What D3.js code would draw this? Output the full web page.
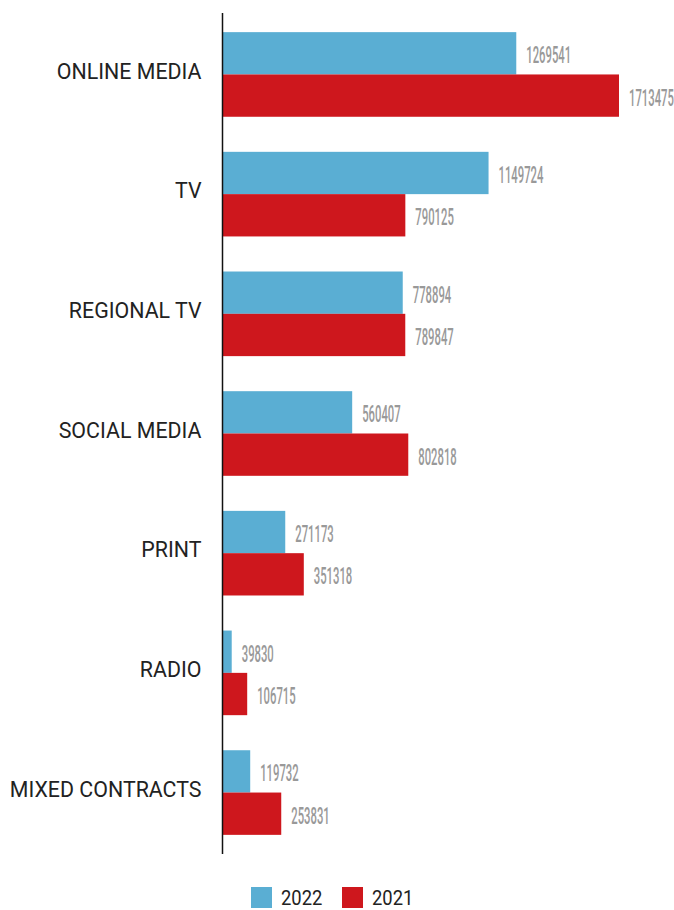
<!DOCTYPE html>
<html>
<head>
<meta charset="utf-8">
<script src="https://cdn.jsdelivr.net/npm/d3@7"></script>
<style>
  html, body { margin: 0; padding: 0; background: #fff; }
  svg { display: block; }
</style>
</head>
<body>
<svg id="chart" width="674" height="910"></svg>
<script>
// Contract values by media type, two years
const categories = ["ONLINE MEDIA", "TV", "REGIONAL TV", "SOCIAL MEDIA", "PRINT", "RADIO", "MIXED CONTRACTS"];
const years = ["2022", "2021"];
const values2022 = [1269541, 1149724, 778894, 560407, 271173, 39830, 119732];
const values2021 = [1713475, 790125, 789847, 802818, 351318, 106715, 253831];
const seriesColors = ["#5aaed3", "#ce171d"];

const svg = d3.select("#chart");
const axisX = 222.5;

const x = d3.scaleLinear().domain([0, 1713475]).range([axisX, 619]);
const y = d3.scaleBand().domain(categories).range([13, 854]).paddingInner(0.293).paddingOuter(0.16);
const ySub = d3.scaleBand().domain(years).range([0, y.bandwidth()]);

const rows = categories.map((c, i) => ({ cat: c, vals: [values2022[i], values2021[i]] }));

const groups = svg.selectAll("g.cat").data(rows).join("g")
  .attr("class", "cat")
  .attr("transform", d => `translate(0,${y(d.cat)})`);

groups.selectAll("rect").data(d => d.vals.map((v, j) => ({ v, year: years[j], j }))).join("rect")
  .attr("x", x(0))
  .attr("y", d => ySub(d.year))
  .attr("width", d => x(d.v) - x(0))
  .attr("height", ySub.bandwidth())
  .attr("fill", d => seriesColors[d.j]);

// Value labels in a narrow figure style
groups.selectAll("text.val").data(d => d.vals.map((v, j) => ({ v, year: years[j] }))).join("text")
  .attr("class", "val")
  .attr("transform", d => `translate(${x(d.v) + 10},${ySub(d.year) + ySub.bandwidth() / 2 + 10}) scale(0.47,1)`)
  .attr("font-family", "Roboto, sans-serif")
  .attr("font-size", 24)
  .attr("font-weight", 500)
  .attr("fill", "#999")
  .text(d => d.v);

// Category axis
const yAxis = d3.axisLeft(y).tickSize(0).tickPadding(0);
const axisG = svg.append("g").attr("transform", `translate(${axisX},0)`).call(yAxis);
axisG.select(".domain").remove();
axisG.selectAll("text")
  .attr("font-family", "Roboto, sans-serif")
  .attr("font-size", 23)
  .attr("fill", "#222")
  .attr("dy", "0.36em")
  .attr("transform", "translate(-21,-4) scale(0.93,1)");

svg.append("line")
  .attr("x1", axisX).attr("x2", axisX)
  .attr("y1", 13).attr("y2", 854)
  .attr("stroke", "#111").attr("stroke-width", 1.5);

// Legend
const legend = svg.append("g").attr("transform", "translate(251,887)");
const legendX = [0, 91];
years.forEach((yr, j) => {
  const g = legend.append("g").attr("transform", `translate(${legendX[j]},0)`);
  g.append("rect").attr("width", 21).attr("height", 21).attr("fill", seriesColors[j]);
  g.append("text")
    .attr("transform", "translate(30,18) scale(0.92,1)")
    .attr("font-family", "Roboto, sans-serif")
    .attr("font-size", 20)
    .attr("fill", "#222")
    .text(yr);
});
</script>
</body>
</html>
